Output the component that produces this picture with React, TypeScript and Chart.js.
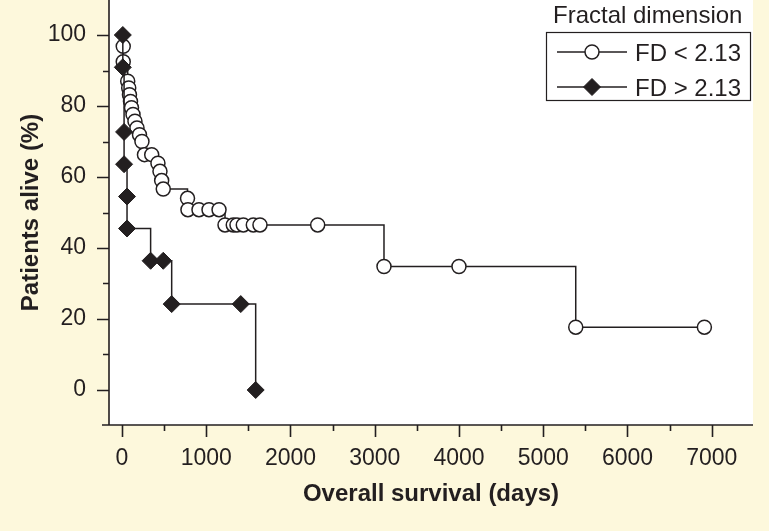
import React, { useEffect, useRef } from "react";
import { Chart, registerables } from "chart.js";

Chart.register(...registerables);

// ---- data ----
const lowFdLabel = "FD < 2.13";
const lowFdDays = [15, 15, 68, 80, 89, 101, 113, 131, 154, 178, 208, 237, 267, 353, 427, 451, 471, 490, 778, 783, 914, 1033, 1152, 1223, 1321, 1365, 1440, 1559, 1638, 2323, 3110, 4000, 5386, 6913];
const lowFdSurvival = [96.8, 92.5, 87.0, 85.1, 83.2, 81.3, 79.5, 77.6, 75.7, 73.8, 71.9, 70.0, 66.3, 66.3, 63.9, 61.6, 59.0, 56.6, 54.0, 50.8, 50.8, 50.8, 50.8, 46.5, 46.5, 46.5, 46.5, 46.5, 46.5, 46.5, 34.8, 34.8, 17.7, 17.7];

const highFdLabel = "FD > 2.13";
const highFdDays = [10, 10, 25, 25, 60, 60, 340, 490, 590, 1410, 1587];
const highFdSurvival = [100, 90.9, 72.7, 63.6, 54.5, 45.5, 36.4, 36.4, 24.2, 24.2, 0];

const xMajorTicks = [0, 1000, 2000, 3000, 4000, 5000, 6000, 7000];
const xMinorTicks = [500, 1500, 2500, 3500, 4500, 5500, 6500];
const yMajorTicks = [0, 20, 40, 60, 80, 100];
const yMinorTicks = [10, 30, 50, 70, 90];

const legendTitle = "Fractal dimension";
const xTitle = "Overall survival (days)";
const yTitle = "Patients alive (%)";

const X_MIN = -154;
const X_MAX = 7490;
const Y_MIN = -9.86;
const Y_MAX = 109.86;

// ---- style ----
const INK = "#231f20";
const BG = "#fdf8dc";
const FONT = '"Liberation Sans", Arial, Helvetica, sans-serif';

const bgPlugin = {
  id: "bgPlugin",
  beforeDraw(chart: any) {
    const { ctx, chartArea: a, width, height } = chart;
    ctx.save();
    ctx.fillStyle = BG;
    ctx.fillRect(0, 0, width, height);
    ctx.fillStyle = "#ffffff";
    ctx.fillRect(a.left, a.top, a.right - a.left, a.bottom - a.top);
    ctx.restore();
  },
};

const axesPlugin = {
  id: "axesPlugin",
  beforeDatasetsDraw(chart: any) {
    const { ctx, chartArea: a } = chart;
    const xs = chart.scales.x;
    const ys = chart.scales.y;
    ctx.save();
    ctx.strokeStyle = INK;
    ctx.lineWidth = 1.6;
    ctx.beginPath();
    ctx.moveTo(a.left, a.top);
    ctx.lineTo(a.left, a.bottom);
    ctx.moveTo(a.left - 7, a.bottom);
    ctx.lineTo(a.right, a.bottom);
    for (const v of xMajorTicks) {
      const p = Math.round(xs.getPixelForValue(v)) + 0.5;
      ctx.moveTo(p, a.bottom);
      ctx.lineTo(p, a.bottom + 12);
    }
    for (const v of xMinorTicks) {
      const p = Math.round(xs.getPixelForValue(v)) + 0.5;
      ctx.moveTo(p, a.bottom);
      ctx.lineTo(p, a.bottom + 6);
    }
    for (const v of yMajorTicks) {
      const p = Math.round(ys.getPixelForValue(v)) + 0.5;
      ctx.moveTo(a.left, p);
      ctx.lineTo(a.left - 12, p);
    }
    for (const v of yMinorTicks) {
      const p = Math.round(ys.getPixelForValue(v)) + 0.5;
      ctx.moveTo(a.left, p);
      ctx.lineTo(a.left - 6, p);
    }
    ctx.stroke();
    ctx.restore();
  },
};

function drawMarker(ctx: CanvasRenderingContext2D, ds: any, cx: number, cy: number) {
  const r = ds.pointRadius;
  ctx.beginPath();
  if (ds.pointStyle === "rectRot") {
    ctx.moveTo(cx - r, cy);
    ctx.lineTo(cx, cy - r);
    ctx.lineTo(cx + r, cy);
    ctx.lineTo(cx, cy + r);
    ctx.closePath();
  } else {
    ctx.arc(cx, cy, r, 0, Math.PI * 2);
  }
  ctx.fillStyle = ds.pointBackgroundColor;
  ctx.fill();
  ctx.lineWidth = ds.pointBorderWidth;
  ctx.strokeStyle = ds.pointBorderColor;
  ctx.stroke();
}

const legendPlugin = {
  id: "fdLegend",
  afterDraw(chart: any) {
    const { ctx, chartArea: a } = chart;
    const boxRight = a.right - 3;
    const boxLeft = boxRight - 204;
    const boxTop = 32;
    const boxH = 68;
    ctx.save();
    ctx.fillStyle = INK;
    ctx.textBaseline = "alphabetic";
    ctx.textAlign = "left";
    ctx.font = `24px ${FONT}`;
    ctx.fillText(legendTitle, boxLeft + 7, 23);
    ctx.lineWidth = 1.2;
    ctx.strokeStyle = INK;
    ctx.strokeRect(boxLeft + 0.5, boxTop + 0.5, 204, boxH);
    chart.data.datasets.forEach((ds: any, i: number) => {
      const cy = 52 + i * 35;
      ctx.beginPath();
      ctx.lineWidth = ds.borderWidth;
      ctx.strokeStyle = ds.borderColor;
      ctx.moveTo(boxLeft + 11, cy);
      ctx.lineTo(boxLeft + 81, cy);
      ctx.stroke();
      drawMarker(ctx, ds, boxLeft + 46, cy);
      ctx.fillStyle = INK;
      ctx.font = `24px ${FONT}`;
      ctx.fillText(ds.label, boxLeft + 89, cy + 8.5);
    });
    ctx.restore();
  },
};

export default function App() {
  const ref = useRef<HTMLCanvasElement>(null);
  useEffect(() => {
    const canvas = ref.current;
    if (!canvas) return;
    const chart = new Chart(canvas, {
      type: "line",
      data: {
        datasets: [
          {
            label: lowFdLabel,
            data: lowFdDays.map((d, i) => ({ x: d, y: lowFdSurvival[i] })),
            stepped: true,
            fill: false,
            borderColor: INK,
            borderWidth: 1.5,
            pointStyle: "circle",
            pointRadius: 7,
            pointHoverRadius: 7,
            pointBackgroundColor: "#ffffff",
            pointBorderColor: INK,
            pointBorderWidth: 1.5,
            order: 1,
          },
          {
            label: highFdLabel,
            data: highFdDays.map((d, i) => ({ x: d, y: highFdSurvival[i] })),
            stepped: true,
            fill: false,
            borderColor: INK,
            borderWidth: 1.5,
            pointStyle: "rectRot",
            pointRadius: 8.5,
            pointHoverRadius: 8.5,
            pointBackgroundColor: INK,
            pointBorderColor: INK,
            pointBorderWidth: 1,
            order: 0,
          },
        ] as any,
      },
      options: {
        animation: false,
        responsive: false,
        devicePixelRatio: 1,
        layout: { autoPadding: false, padding: { left: 0, right: 16, top: 0, bottom: 0 } },
        plugins: {
          legend: { display: false },
          tooltip: { enabled: false },
        },
        events: [],
        scales: {
          x: {
            type: "linear",
            min: X_MIN,
            max: X_MAX,
            grid: { display: false, drawTicks: false },
            border: { display: false },
            afterBuildTicks: (s: any) => {
              s.ticks = xMajorTicks.map((v) => ({ value: v }));
            },
            afterFit: (s: any) => {
              s.height = 106;
              s.paddingLeft = 0;
              s.paddingRight = 0;
            },
            ticks: {
              padding: 20,
              color: INK,
              font: { family: FONT, size: 23 },
              maxRotation: 0,
              autoSkip: false,
              callback: (v: any) => String(v),
            },
            title: {
              display: true,
              text: xTitle,
              color: INK,
              font: { family: FONT, size: 24, weight: "bold" },
              padding: { top: 0, bottom: 22 },
            },
          },
          y: {
            type: "linear",
            min: Y_MIN,
            max: Y_MAX,
            grid: { display: false, drawTicks: false },
            border: { display: false },
            afterBuildTicks: (s: any) => {
              s.ticks = yMajorTicks.map((v) => ({ value: v }));
            },
            afterFit: (s: any) => {
              s.width = 109;
              s.paddingTop = 0;
              s.paddingBottom = 0;
            },
            ticks: {
              padding: 23,
              color: INK,
              font: { family: FONT, size: 23 },
              autoSkip: false,
              callback: (v: any) => String(v),
            },
            title: {
              display: true,
              text: yTitle,
              color: INK,
              font: { family: FONT, size: 24, weight: "bold" },
              padding: { top: 17, bottom: 0 },
            },
          },
        },
      } as any,
      plugins: [bgPlugin, axesPlugin, legendPlugin],
    });
    return () => chart.destroy();
  }, []);

  return (
    <div style={{ position: "fixed", left: 0, top: 0, width: 769, height: 531, background: BG }}>
      <canvas ref={ref} width={769} height={531} style={{ display: "block", width: 769, height: 531 }} />
    </div>
  );
}
